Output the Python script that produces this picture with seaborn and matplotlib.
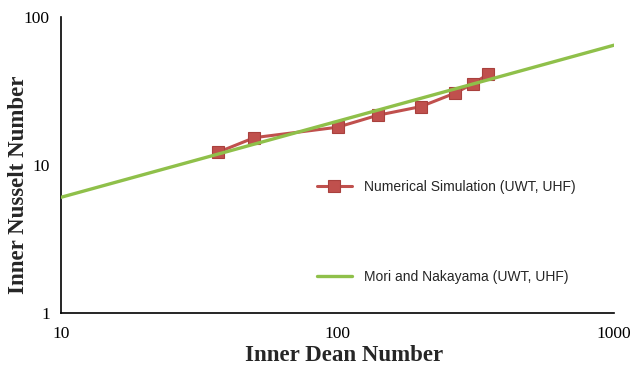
import matplotlib
matplotlib.use("Agg")
import matplotlib.pyplot as plt
import seaborn as sns
import pandas as pd

# Numerical simulation results
dean_sim = [37, 50, 100, 140, 200, 265, 310, 350]
nusselt_sim = [12.2, 15.3, 18.0, 21.7, 24.8, 30.5, 35.5, 41.0]

# Mori and Nakayama correlation (straight line on log-log axes)
dean_corr = [10, 1000]
nusselt_corr = [6.05, 64.5]

# Axis tick labels
x_ticks = [10, 100, 1000]
y_ticks = [1, 10, 100]

sim = pd.DataFrame({"De": dean_sim, "Nu": nusselt_sim})
corr = pd.DataFrame({"De": dean_corr, "Nu": nusselt_corr})

sns.set_style("white")

fig = plt.figure(figsize=(6.32, 3.70), dpi=100)
ax = fig.add_axes([61 / 632, 57 / 370, 553 / 632, 296 / 370])

red = "#C0504D"
green = "#8FC04A"

sns.lineplot(data=sim, x="De", y="Nu", ax=ax, color=red, linewidth=2.2,
             marker="s", markersize=9, markerfacecolor=red,
             markeredgecolor="#A9403D", markeredgewidth=0.8,
             label="Numerical Simulation (UWT, UHF)", zorder=2)
sns.lineplot(data=corr, x="De", y="Nu", ax=ax, color=green, linewidth=2.4,
             label="Mori and Nakayama (UWT, UHF)", zorder=3)

ax.set_xscale("log")
ax.set_yscale("log")
ax.set_xlim(10, 1000)
ax.set_ylim(1, 100)
ax.set_xticks(x_ticks)
ax.set_xticklabels([str(v) for v in x_ticks])
ax.set_yticks(y_ticks)
ax.set_yticklabels([str(v) for v in y_ticks])
ax.minorticks_off()
ax.set_xticks([550], minor=True)
ax.tick_params(axis="x", which="minor", direction="in", length=3,
               width=1, colors="black")
ax.tick_params(axis="both", which="major", length=0, labelsize=12.5,
               colors="black")
ax.tick_params(axis="x", which="major", pad=9)
ax.tick_params(axis="y", which="major", pad=8)
for lbl in ax.get_xticklabels() + ax.get_yticklabels():
    lbl.set_family("Liberation Serif")

for side in ("top", "right"):
    ax.spines[side].set_visible(False)
for side in ("left", "bottom"):
    ax.spines[side].set_color("black")
    ax.spines[side].set_linewidth(1.2)

ax.set_xlabel("Inner Dean Number", family="Liberation Serif",
              fontweight="bold", fontsize=16.5)
ax.set_ylabel("Inner Nusselt Number", family="Liberation Serif",
              fontweight="bold", fontsize=16.5)
ax.xaxis.set_label_coords((344 - 61) / 553, (313 - 345) / 296)
ax.yaxis.set_label_coords((29 - 61) / 553, (313 - 185) / 296)

leg = ax.legend(loc="upper left",
                bbox_to_anchor=((317 - 61) / 553, (313 - 180) / 296),
                frameon=False, borderaxespad=0, borderpad=0,
                labelspacing=5.45, handlelength=2.5, handletextpad=0.85,
                prop={"family": "Liberation Sans", "size": 10})

fig.savefig("out.png", dpi=100)
